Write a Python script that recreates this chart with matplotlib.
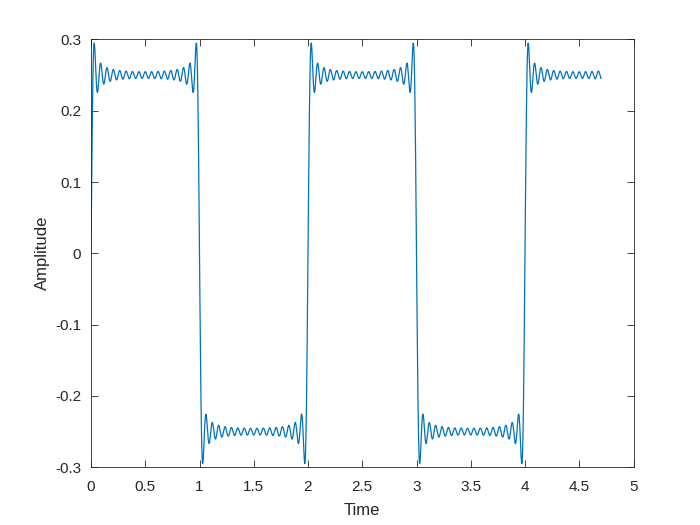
import numpy as np
import matplotlib
matplotlib.use("Agg")
import matplotlib.pyplot as plt
from matplotlib.ticker import FuncFormatter

# Data: truncated Fourier series of a square wave (amplitude 0.25, period 2)
harmonics = [1, 3, 5, 7, 9, 11, 13, 15, 17, 19, 21, 23, 25, 27, 29, 31, 33]
coefficients = [1 / (np.pi * n) for n in harmonics]
t_start, t_stop, t_step = 0.0, 4.7, 0.001
x_ticks = [0, 0.5, 1, 1.5, 2, 2.5, 3, 3.5, 4, 4.5, 5]
y_ticks = [-0.3, -0.2, -0.1, 0, 0.1, 0.2, 0.3]

t = np.arange(t_start, t_stop + t_step / 2, t_step)
y = np.zeros_like(t)
for n, c in zip(harmonics, coefficients):
    y += c * np.sin(n * np.pi * t)

plt.rcParams['font.family'] = ['Liberation Sans', 'DejaVu Sans']
dark = (0.15, 0.15, 0.15)

fig = plt.figure(figsize=(7, 5.25), dpi=100)
ax = fig.add_axes([0.13, 0.11, 0.775, 0.815])
ax.plot(t, y, color='#0072BD', lw=0.9)
ax.set_xlim(0, 5)
ax.set_ylim(-0.3, 0.3)
ax.set_xticks(x_ticks)
ax.set_yticks(y_ticks)
fmt = FuncFormatter(lambda v, p: ('%g' % round(v, 3)).replace('\u2212', '-'))
ax.xaxis.set_major_formatter(fmt)
ax.yaxis.set_major_formatter(fmt)
ax.tick_params(direction='in', length=5, width=0.6, colors=dark, labelsize=11,
               top=True, right=True)
ax.tick_params(axis='x', pad=9)
ax.tick_params(axis='y', pad=7)
for s in ax.spines.values():
    s.set_linewidth(0.6)
    s.set_color(dark)
ax.set_xlabel('Time', fontsize=12, color=dark, labelpad=7)
ax.set_ylabel('Amplitude', fontsize=12, color=dark, labelpad=4)
fig.savefig('out.png', dpi=100)
